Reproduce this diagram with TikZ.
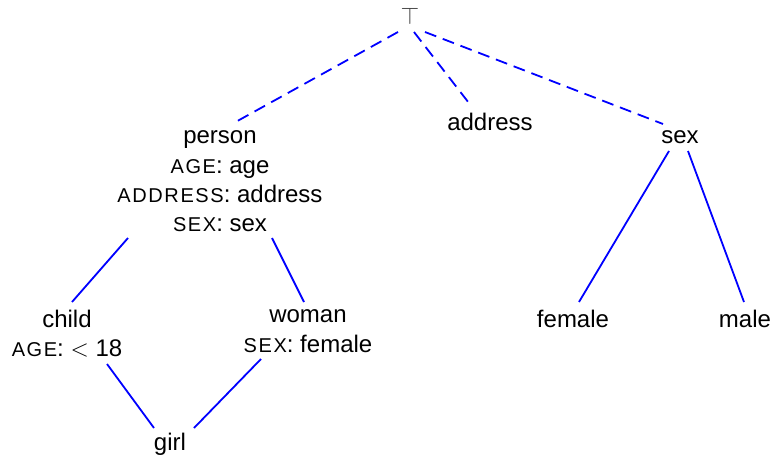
\documentclass[tikz,border=0pt]{standalone}
\usepackage{fontspec}
\setmainfont{Liberation Sans}
\newfontfamily\scf[LetterSpace=8]{Liberation Sans}
\usetikzlibrary{calc}
\newcommand{\fsc}[1]{{\scf\fontsize{10}{12}\selectfont #1}}
\tikzset{
  lbl/.style={inner sep=0pt, anchor=base, font=\fontsize{12}{14}\selectfont, text=black},
  link/.style={draw=blue, line width=0.9pt},
  dlink/.style={link, dash pattern=on 6pt off 3.5pt}
}
\begin{document}
\begin{tikzpicture}[x=0.5pt,y=-0.5pt]
\useasboundingbox (0,0) rectangle (773,455);
% nodes
\node[inner sep=0pt, text=black!75, font=\fontsize{12.5}{14}\selectfont] (top) at (410,16) {$\top$};
\node[lbl] (person) at (220,143) {person};
\node[lbl] (personAge) at (220,173) {\fsc{AGE}: age};
\node[lbl] (personAddr) at (220,202) {\fsc{ADDRESS}: address};
\node[lbl] (personSex) at (220,231) {\fsc{SEX}: sex};
\node[lbl] (address) at (490,130) {address};
\node[lbl] (sex) at (680,143) {sex};
\node[lbl] (female) at (573,327) {female};
\node[lbl] (male) at (745,327) {male};
\node[lbl] (child) at (67,327) {child};
\node[lbl] (childAge) at (67,356) {\fsc{AGE}: $<$ 18};
\node[lbl] (woman) at (308,322) {woman};
\node[lbl] (womanSex) at (308,352) {\fsc{SEX}: female};
\node[lbl] (girl) at (170,450) {girl};
% dashed links from top
\draw[dlink] ($(top)+(-12,16)$) -- ($(person.base)+(12,-19)$);
\draw[dlink] ($(top)+(4,16)$) -- ($(address.base)+(-18,-23)$);
\draw[dlink] ($(top)+(15,16)$) -- ($(sex.base)+(-17,-19)$);
% solid links
\draw[link] ($(sex.base)+(-11,8)$) -- ($(female.base)+(6,-25)$);
\draw[link] ($(sex.base)+(8,8)$) -- ($(male.base)+(-1,-25)$);
\draw[link] ($(personSex.base)+(-92,7)$) -- ($(child.base)+(5,-25)$);
\draw[link] ($(personSex.base)+(52,7)$) -- ($(woman.base)+(-4,-20)$);
\draw[link] ($(childAge.base)+(40,8)$) -- ($(girl.base)+(-16,-22)$);
\draw[link] ($(womanSex.base)+(-47,7)$) -- ($(girl.base)+(24,-22)$);
\end{tikzpicture}
\end{document}
